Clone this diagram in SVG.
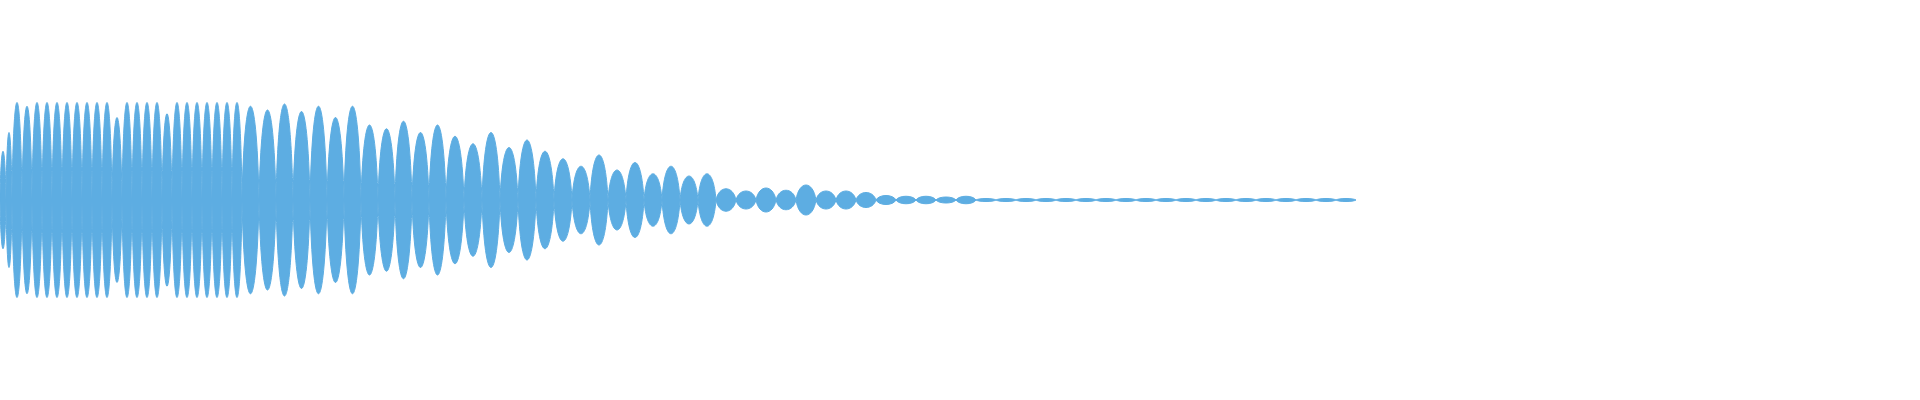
<svg xmlns="http://www.w3.org/2000/svg" width="1920" height="400" viewBox="0 0 1920 400">
<style>.w{fill:#5DADE2;stroke:#5DADE2;stroke-width:1}</style>
<rect width="1920" height="400" fill="#ffffff"/>
<g id="waveform">
<path class="w" d="M0 200c1-65 5-65 6 0c-1 65-5 65-6 0z M6 200c1-90 5-90 6 0c-1 90-5 90-6 0z
M12 200c1.5-130 8.5-130 10 0c-1.5 130-8.5 130-10 0z M22 200c1.5-125 8.5-125 10 0c-1.5 125-8.5 125-10 0z
M32 200c1.5-130 8.5-130 10 0c-1.5 130-8.5 130-10 0z M42 200c1.5-130 8.5-130 10 0c-1.5 130-8.5 130-10 0z
M52 200c1.5-130 8.5-130 10 0c-1.5 130-8.5 130-10 0z M62 200c1.5-130 8.5-130 10 0c-1.5 130-8.5 130-10 0z
M72 200c1.5-130 8.5-130 10 0c-1.5 130-8.5 130-10 0z M82 200c1.5-130 8.5-130 10 0c-1.5 130-8.5 130-10 0z
M92 200c1.5-130 8.5-130 10 0c-1.5 130-8.5 130-10 0z M102 200c1.5-130 8.5-130 10 0c-1.5 130-8.5 130-10 0z
M112 200c1.5-110 8.5-110 10 0c-1.5 110-8.5 110-10 0z M122 200c1.5-130 8.5-130 10 0c-1.5 130-8.5 130-10 0z
M132 200c1.5-130 8.5-130 10 0c-1.5 130-8.5 130-10 0z M142 200c1.5-130 8.5-130 10 0c-1.5 130-8.5 130-10 0z
M152 200c1.5-130 8.5-130 10 0c-1.5 130-8.5 130-10 0z M162 200c1.5-115 8.5-115 10 0c-1.5 115-8.5 115-10 0z
M172 200c1.5-130 8.5-130 10 0c-1.5 130-8.5 130-10 0z M182 200c1.5-130 8.5-130 10 0c-1.5 130-8.5 130-10 0z
M192 200c1.5-130 8.5-130 10 0c-1.5 130-8.5 130-10 0z M202 200c1.5-130 8.5-130 10 0c-1.5 130-8.5 130-10 0z
M212 200c1.5-130 8.5-130 10 0c-1.5 130-8.5 130-10 0z M222 200c1.5-130 8.5-130 10 0c-1.5 130-8.5 130-10 0z
M232 200c1.5-130 8.5-130 10 0c-1.5 130-8.5 130-10 0z
M242 200c2.5-125 14.5-125 17 0c-2.5 125-14.5 125-17 0z M259 200c2.5-120 14.5-120 17 0c-2.5 120-14.5 120-17 0z
M276 200c2.5-128 14.5-128 17 0c-2.5 128-14.5 128-17 0z M293 200c2.5-118 14.5-118 17 0c-2.5 118-14.5 118-17 0z
M310 200c2.5-125 14.5-125 17 0c-2.5 125-14.5 125-17 0z M327 200c2.5-110 14.5-110 17 0c-2.5 110-14.5 110-17 0z
M344 200c2.5-125 14.5-125 17 0c-2.5 125-14.5 125-17 0z
M361 200c2.5-100 14.5-100 17 0c-2.5 100-14.5 100-17 0z M378 200c2.5-95 14.5-95 17 0c-2.5 95-14.5 95-17 0z
M395 200c2.5-105 14.5-105 17 0c-2.5 105-14.5 105-17 0z M412 200c2.5-90 14.5-90 17 0c-2.5 90-14.5 90-17 0z
M429 200c2.5-100 14.5-100 17 0c-2.5 100-14.5 100-17 0z
M446 200c2.7-85 15.3-85 18 0c-2.7 85-15.3 85-18 0z M464 200c2.7-75 15.3-75 18 0c-2.7 75-15.3 75-18 0z
M482 200c2.7-90 15.3-90 18 0c-2.7 90-15.3 90-18 0z M500 200c2.7-70 15.3-70 18 0c-2.7 70-15.3 70-18 0z
M518 200c2.7-80 15.3-80 18 0c-2.7 80-15.3 80-18 0z M536 200c2.7-65 15.3-65 18 0c-2.7 65-15.3 65-18 0z
M554 200c2.7-55 15.3-55 18 0c-2.7 55-15.3 55-18 0z M572 200c2.7-45 15.3-45 18 0c-2.7 45-15.3 45-18 0z
M590 200c2.7-60 15.3-60 18 0c-2.7 60-15.3 60-18 0z M608 200c2.7-40 15.3-40 18 0c-2.7 40-15.3 40-18 0z
M626 200c2.7-50 15.3-50 18 0c-2.7 50-15.3 50-18 0z M644 200c2.7-35 15.3-35 18 0c-2.7 35-15.3 35-18 0z
M662 200c2.7-45 15.3-45 18 0c-2.7 45-15.3 45-18 0z M680 200c2.7-32 15.3-32 18 0c-2.7 32-15.3 32-18 0z
M698 200c2.7-35 15.3-35 18 0c-2.7 35-15.3 35-18 0z
M716 200c3-15 17-15 20 0c-3 15-17 15-20 0z M736 200c3-12 17-12 20 0c-3 12-17 12-20 0z
M756 200c3-16 17-16 20 0c-3 16-17 16-20 0z M776 200c3-13 17-13 20 0c-3 13-17 13-20 0z
M796 200c3-20 17-20 20 0c-3 20-17 20-20 0z M816 200c3-12 17-12 20 0c-3 12-17 12-20 0z
M836 200c3-12 17-12 20 0c-3 12-17 12-20 0z M856 200c3-10 17-10 20 0c-3 10-17 10-20 0z
M876 200c3-6 17-6 20 0c-3 6-17 6-20 0z M896 200c3-5 17-5 20 0c-3 5-17 5-20 0z
M916 200c3-5 17-5 20 0c-3 5-17 5-20 0z M936 200c3-4 17-4 20 0c-3 4-17 4-20 0z
M956 200c3-5 17-5 20 0c-3 5-17 5-20 0z
M976 200c3-2 17-2 20 0c-3 2-17 2-20 0z M996 200c3-2 17-2 20 0c-3 2-17 2-20 0z
M1016 200c3-2 17-2 20 0c-3 2-17 2-20 0z M1036 200c3-2 17-2 20 0c-3 2-17 2-20 0z
M1056 200c3-2 17-2 20 0c-3 2-17 2-20 0z M1076 200c3-2 17-2 20 0c-3 2-17 2-20 0z
M1096 200c3-2 17-2 20 0c-3 2-17 2-20 0z M1116 200c3-2 17-2 20 0c-3 2-17 2-20 0z
M1136 200c3-2 17-2 20 0c-3 2-17 2-20 0z M1156 200c3-2 17-2 20 0c-3 2-17 2-20 0z
M1176 200c3-2 17-2 20 0c-3 2-17 2-20 0z M1196 200c3-2 17-2 20 0c-3 2-17 2-20 0z
M1216 200c3-2 17-2 20 0c-3 2-17 2-20 0z M1236 200c3-2 17-2 20 0c-3 2-17 2-20 0z
M1256 200c3-2 17-2 20 0c-3 2-17 2-20 0z M1276 200c3-2 17-2 20 0c-3 2-17 2-20 0z
M1296 200c3-2 17-2 20 0c-3 2-17 2-20 0z M1316 200c3-2 17-2 20 0c-3 2-17 2-20 0z
M1336 200c3-2 17-2 20 0c-3 2-17 2-20 0z"/>
</g>
</svg>
